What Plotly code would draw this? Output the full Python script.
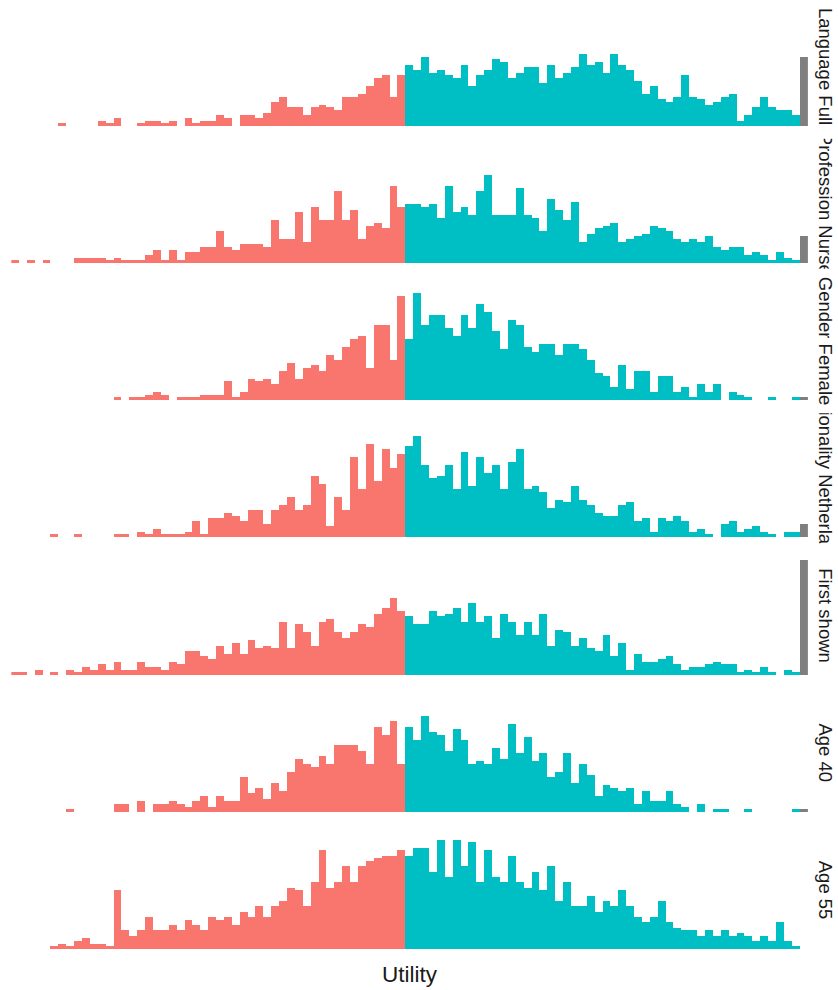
import plotly.graph_objects as go

# Facet labels (top to bottom)
panel_labels = ["Language Full", "Profession Nurse", "Gender Female",
                "Nationality Netherlands", "First shown", "Age 40", "Age 55"]

# 101 bins: 50 negative-utility bins, 50 positive-utility bins, 1 extra bin
bin_index = list(range(101))
n_negative = 50
n_positive = 50

counts_language_full = [
    0, 0, 0, 0, 0, 0, 1, 0, 0, 0, 0, 2, 1, 3, 0, 0, 1, 2, 2, 1,
    2, 0, 3, 1, 2, 2, 4, 3, 0, 4, 4, 3, 5, 9, 11, 7, 7, 4, 7, 8,
    7, 6, 11, 11, 12, 15, 18, 19, 11, 19,
    23, 21, 26, 20, 21, 19, 18, 23, 15, 19, 21, 25, 24, 18, 20, 22, 22, 16, 23, 18,
    20, 22, 27, 23, 24, 20, 27, 23, 21, 17, 12, 15, 10, 9, 11, 19, 11, 10, 8, 9,
    11, 12, 2, 4, 7, 11, 7, 6, 6, 4,
    26]

counts_profession_nurse = [
    1, 0, 1, 0, 1, 0, 0, 0, 2, 2, 2, 2, 1, 2, 1, 1, 1, 3, 5, 1,
    5, 1, 4, 4, 6, 6, 12, 6, 5, 7, 7, 7, 6, 16, 9, 9, 19, 8, 21, 16,
    16, 27, 16, 20, 9, 14, 15, 13, 29, 21,
    22, 22, 21, 22, 17, 29, 19, 21, 18, 27, 33, 18, 18, 18, 28, 18, 17, 12, 24, 20,
    16, 23, 8, 11, 13, 14, 15, 8, 9, 10, 11, 14, 13, 12, 9, 8, 9, 8, 10, 6,
    5, 6, 6, 3, 4, 3, 1, 4, 2, 1,
    10]

counts_gender_female = [
    0, 0, 0, 0, 0, 0, 0, 0, 0, 0, 0, 0, 0, 1, 0, 1, 1, 2, 3, 2,
    0, 1, 1, 1, 2, 2, 2, 7, 1, 3, 8, 7, 8, 6, 11, 14, 8, 12, 13, 11,
    17, 15, 20, 23, 24, 12, 28, 28, 15, 39,
    23, 40, 28, 32, 32, 27, 24, 32, 27, 36, 33, 26, 19, 30, 28, 20, 18, 21, 21, 17,
    21, 21, 19, 15, 10, 9, 5, 13, 4, 11, 11, 3, 9, 9, 3, 5, 1, 6, 3, 6,
    0, 3, 2, 1, 0, 0, 1, 0, 0, 1,
    1]

counts_nationality_netherlands = [
    0, 0, 0, 0, 0, 1, 0, 0, 1, 0, 0, 0, 0, 1, 1, 0, 2, 1, 3, 1,
    1, 1, 2, 6, 1, 7, 7, 9, 8, 6, 10, 10, 5, 10, 12, 15, 10, 12, 23, 20,
    4, 15, 10, 30, 18, 35, 21, 33, 26, 31,
    34, 38, 27, 22, 23, 27, 18, 32, 19, 30, 24, 27, 18, 28, 33, 18, 19, 17, 11, 14,
    13, 19, 14, 12, 9, 8, 8, 12, 13, 6, 7, 2, 7, 6, 8, 6, 2, 3, 1, 0,
    5, 6, 2, 3, 4, 2, 1, 0, 2, 2,
    5]

counts_first_shown = [
    1, 1, 0, 2, 0, 1, 0, 2, 1, 3, 2, 4, 2, 5, 2, 2, 5, 3, 3, 2,
    5, 4, 9, 9, 7, 6, 11, 8, 12, 8, 13, 10, 11, 10, 20, 10, 19, 16, 11, 20,
    21, 16, 14, 16, 19, 18, 23, 25, 29, 24,
    22, 19, 19, 24, 22, 23, 25, 20, 27, 20, 22, 14, 23, 20, 15, 20, 15, 23, 11, 17,
    16, 11, 14, 10, 9, 15, 7, 12, 2, 8, 5, 5, 6, 7, 4, 2, 3, 3, 4, 5,
    4, 4, 1, 2, 1, 3, 1, 0, 2, 1,
    43]

counts_age_40 = [
    0, 0, 0, 0, 0, 0, 0, 1, 0, 0, 0, 0, 0, 3, 3, 0, 4, 0, 3, 3,
    4, 3, 2, 4, 6, 2, 6, 4, 4, 13, 7, 9, 5, 11, 8, 15, 20, 18, 17, 21,
    18, 25, 25, 25, 23, 18, 32, 29, 34, 18,
    32, 27, 36, 30, 29, 23, 31, 27, 18, 19, 18, 24, 20, 33, 22, 28, 19, 22, 13, 15,
    22, 11, 18, 14, 6, 10, 9, 8, 9, 3, 8, 4, 4, 8, 3, 2, 0, 3, 0, 1,
    1, 0, 0, 1, 0, 0, 0, 0, 0, 1,
    1]

counts_age_55 = [
    0, 0, 0, 0, 0, 1, 2, 1, 3, 4, 2, 2, 1, 22, 7, 5, 7, 12, 7, 7,
    9, 7, 11, 9, 7, 12, 11, 12, 9, 14, 12, 16, 12, 16, 18, 23, 22, 16, 25, 37,
    23, 25, 31, 25, 31, 33, 34, 35, 35, 37,
    35, 38, 38, 29, 41, 27, 41, 31, 40, 25, 37, 27, 25, 35, 25, 23, 29, 22, 31, 18,
    25, 16, 16, 20, 14, 18, 16, 22, 16, 12, 10, 12, 18, 10, 8, 7, 7, 5, 7, 5,
    7, 5, 6, 5, 3, 5, 3, 10, 3, 1,
    0]

panel_counts = [counts_language_full, counts_profession_nurse, counts_gender_female,
                counts_nationality_netherlands, counts_first_shown,
                counts_age_40, counts_age_55]

NEG_COLOR = "#F8766D"
POS_COLOR = "#00BFC4"
EXTRA_COLOR = "#7F7F7F"
TEXT_COLOR = "#1A1A1A"
FONT = "Liberation Sans, Arial, sans-serif"

W, H = 838, 990
X_LEFT, X_RIGHT = 11.33, 807.9          # plotting strip for the histogram bins
STRIP_LEFT, STRIP_RIGHT = 812.0, 838.0  # facet label strip
ZERO0, ZERO_STEP = 125.5, 137.26        # baseline of first facet and facet pitch
PX_PER_COUNT = 8.0 / 3.0
BELOW_ZERO_PX = 6.0
PANEL_PX = 130.0

y_lo = -BELOW_ZERO_PX / PX_PER_COUNT
y_hi = y_lo + PANEL_PX / PX_PER_COUNT

bar_colors = [NEG_COLOR] * n_negative + [POS_COLOR] * n_positive + [EXTRA_COLOR]

fig = go.Figure()
layout_axes = {}

for i, (label, counts) in enumerate(zip(panel_labels, panel_counts)):
    yname = "y" if i == 0 else f"y{i + 1}"
    ykey = "yaxis" if i == 0 else f"yaxis{i + 1}"
    bottom_px = ZERO0 + ZERO_STEP * i + BELOW_ZERO_PX
    top_px = bottom_px - PANEL_PX
    layout_axes[ykey] = dict(
        domain=[1 - bottom_px / H, 1 - top_px / H],
        range=[y_lo, y_hi], visible=False, fixedrange=True, anchor="x",
    )

    fig.add_trace(go.Bar(
        x=bin_index, y=counts, xaxis="x", yaxis=yname,
        marker=dict(color=bar_colors, line=dict(width=0)),
        hoverinfo="skip", showlegend=False,
    ))

    # facet label, clipped to the facet height like a strip
    fig.add_trace(go.Bar(
        x=[0], y=[y_hi - y_lo], base=[y_lo], width=[1],
        xaxis="x2", yaxis=yname,
        marker=dict(color="rgba(0,0,0,0)", line=dict(width=0)),
        text=[label], textposition="inside", textangle=90,
        insidetextanchor="middle", constraintext="none",
        textfont=dict(family=FONT, size=18.5, color=TEXT_COLOR),
        cliponaxis=True, hoverinfo="skip", showlegend=False,
    ))

fig.update_layout(
    width=W, height=H,
    margin=dict(l=0, r=0, t=0, b=0),
    paper_bgcolor="white", plot_bgcolor="white",
    bargap=0, barmode="overlay",
    xaxis=dict(domain=[X_LEFT / W, X_RIGHT / W], range=[-0.5, 100.5],
               visible=False, fixedrange=True),
    xaxis2=dict(domain=[STRIP_LEFT / W, STRIP_RIGHT / W], range=[-0.5, 0.5],
                visible=False, fixedrange=True),
    **layout_axes,
)

fig.add_annotation(
    text="Utility", xref="paper", yref="paper",
    x=(X_LEFT + X_RIGHT) / 2 / W, y=1 - 974 / H,
    showarrow=False, xanchor="center", yanchor="middle",
    font=dict(family=FONT, size=22.5, color=TEXT_COLOR),
)

fig.write_html("out.html")
